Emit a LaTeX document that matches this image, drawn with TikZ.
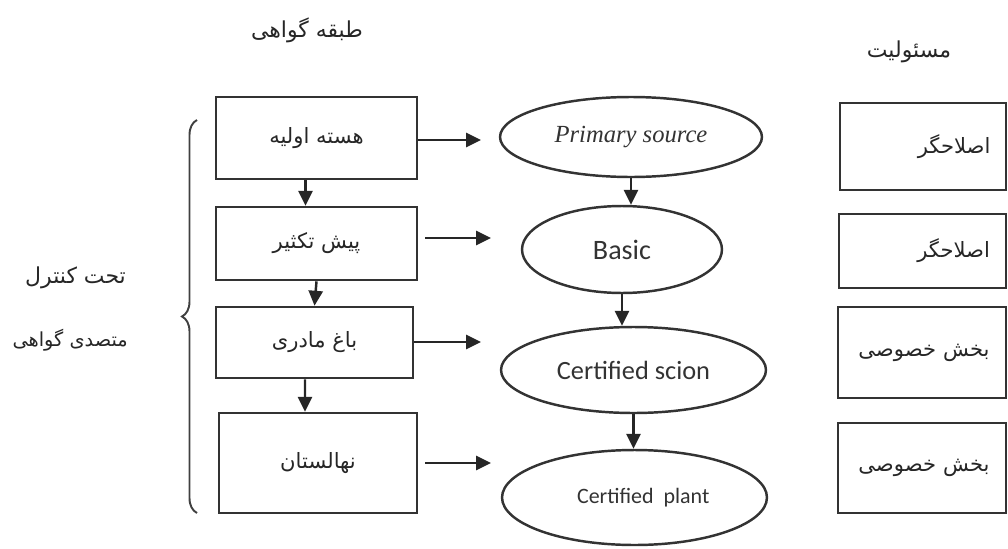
\documentclass[tikz,border=0pt]{standalone}
\usepackage{fontspec}
\TeXXeTstate=1
\newfontfamily\arabicfont[Script=Arabic]{DejaVu Sans}
\newfontfamily\romanfont{Liberation Serif}
\newfontfamily\calfont{Carlito}
\usetikzlibrary{arrows.meta,shapes.geometric,decorations.pathreplacing}

\newcommand{\fa}[1]{{\arabicfont\beginR #1\endR}}

\begin{document}
\begin{tikzpicture}[x=0.02cm,y=-0.02cm,
  stage/.style={draw=black!80,line width=1.5pt,text=black!85,inner sep=2pt,font=\arabicfont\fontsize{12}{14}\selectfont},
  duty/.style={stage,text width=2.7cm,align=right,inner xsep=0.3cm},
  grade/.style={ellipse,draw=black!80,line width=1.4pt,text=black!80,inner sep=1pt},
  note/.style={text=black!85,font=\arabicfont\fontsize{12.5}{14}\selectfont},
  arr/.style={-{Triangle[length=8.5pt,width=8pt]},line width=1.4pt,black!85},
  brc/.style={decorate,decoration={brace,amplitude=0.3cm},line width=1.1pt,black!75}]

  \useasboundingbox (0,0) rectangle (1008,548);

  \node[note] (h1) at (307,30) {\fa{طبقه گواهی}};
  \node[note] (h2) at (909,52) {\fa{مسئولیت}};

  \node[stage,minimum width=4.02cm,minimum height=1.64cm] (b1) at (316.5,138) {\fa{هسته اولیه}};
  \node[stage,minimum width=4.02cm,minimum height=1.46cm] (b2) at (316.5,243.5) {\fa{پیش تکثیر}};
  \node[stage,minimum width=3.94cm,minimum height=1.42cm] (b3) at (314.5,342.5) {\fa{باغ مادری}};
  \node[stage,minimum width=3.96cm,minimum height=2.0cm] (b4) at (318,463) {\fa{نهالستان}};

  \node[grade,minimum width=5.24cm,minimum height=1.6cm] (e1) at (631,137) {\romanfont\itshape\fontsize{14}{16}\selectfont Primary source};
  \node[grade,minimum width=4.0cm,minimum height=1.74cm] (e2) at (622,249.5) {\calfont\fontsize{16}{18}\selectfont Basic};
  \node[grade,minimum width=5.3cm,minimum height=1.72cm] (e3) at (633.5,370) {\calfont\fontsize{15}{17}\selectfont Certified scion};
  \node[grade,minimum width=5.3cm,minimum height=1.9cm] (e4) at (634.5,497.5) {\calfont\fontsize{12.5}{14}\selectfont\hspace{0.35cm}Certified\ \ plant};

  \node[duty,minimum width=3.32cm,minimum height=1.74cm] (r1) at (923,146.5) {\fa{اصلاحگر}};
  \node[duty,minimum width=3.34cm,minimum height=1.48cm] (r2) at (922.5,251) {\fa{اصلاحگر}};
  \node[duty,minimum width=3.36cm,minimum height=1.82cm] (r3) at (922,352.5) {\fa{بخش خصوصی}};
  \node[duty,minimum width=3.36cm,minimum height=1.8cm] (r4) at (922,468) {\fa{بخش خصوصی}};

  \node[note,anchor=east] (c1) at (132,278) {\fa{تحت کنترل}};
  \node[note,anchor=east,font=\arabicfont\fontsize{11}{13}\selectfont] (c2) at (134,340) {\fa{متصدی گواهی}};

  \coordinate (t1) at (481,140);
  \coordinate (s2) at (425,238);
  \coordinate (t2) at (491,238);
  \coordinate (t3) at (481,342);
  \coordinate (s4) at (425,463);
  \coordinate (t4) at (491,463);
  \coordinate (bt) at (197,120);
  \coordinate (bb) at (197,513);

  \draw[arr] ([xshift=-0.22cm]b1.south) -- ([xshift=-0.22cm]b2.north);
  \draw[arr] (b2.south) -- (b3.north);
  \draw[arr] ([xshift=-0.19cm]b3.south) -- ([xshift=-0.26cm]b4.north);

  \draw[arr] (b1.east |- t1) -- (t1);
  \draw[arr] (s2) -- (t2);
  \draw[arr] (b3.east |- t3) -- (t3);
  \draw[arr] (s4) -- (t4);

  \draw[arr] (e1.south) -- (e1.south |- e2.north);
  \draw[arr] (e2.south) -- (e2.south |- e3.north);
  \draw[arr] (e3.south) -- (e3.south |- e4.north);

  \draw[brc] (bb) -- (bt);
\end{tikzpicture}
\end{document}
